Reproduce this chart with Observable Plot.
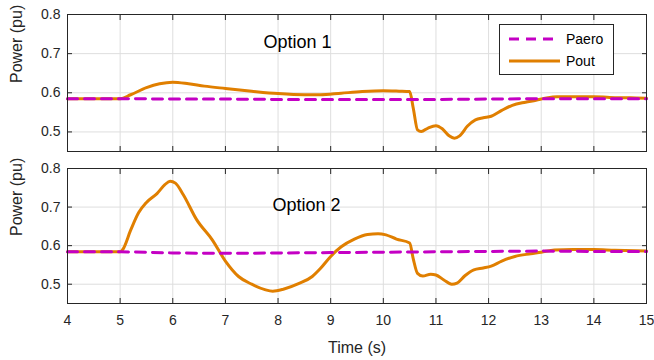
<!DOCTYPE html>
<html><head><meta charset="utf-8">
<script src="https://cdn.jsdelivr.net/npm/d3@7"></script>
<script src="https://cdn.jsdelivr.net/npm/@observablehq/plot@0.6"></script>
<style>
body{margin:0;background:#fff;font-family:"Liberation Sans",Arial,sans-serif;}
#wrap{position:relative;width:654px;height:360px;overflow:hidden;}
#wrap > .pos{position:absolute;left:0;}
</style></head><body><div id="wrap"></div>
<script>
// ---- data ----
const timeOut1 = [4.0,5.0,5.2,5.5,5.75,6.0,6.3,6.6,7.0,7.5,8.0,8.5,8.8,9.2,9.6,10.0,10.3,10.5,10.57,10.65,10.72,10.85,11.0,11.12,11.25,11.35,11.45,11.6,11.75,11.9,12.05,12.25,12.45,12.7,12.9,13.1,13.3,13.6,14.0,14.3,14.7,15.0];
const pout1   = [0.585,0.585,0.595,0.613,0.623,0.627,0.623,0.617,0.611,0.604,0.598,0.595,0.595,0.599,0.603,0.605,0.604,0.603,0.560,0.505,0.501,0.510,0.516,0.508,0.490,0.484,0.490,0.515,0.531,0.536,0.540,0.555,0.568,0.576,0.581,0.587,0.590,0.590,0.590,0.588,0.587,0.586];
const timeAero1 = [4,5,6,7,8,9,10,11,12,13,14,15];
const paero1    = [0.585,0.585,0.584,0.584,0.583,0.583,0.583,0.583,0.584,0.585,0.585,0.585];

const timeOut2 = [4.0,5.0,5.05,5.2,5.35,5.5,5.7,5.85,5.95,6.05,6.2,6.45,6.75,7.0,7.25,7.5,7.75,7.9,8.1,8.4,8.65,8.8,9.0,9.2,9.45,9.7,9.9,10.05,10.25,10.5,10.57,10.65,10.75,10.9,11.0,11.15,11.3,11.4,11.55,11.72,11.9,12.05,12.25,12.5,12.8,13.0,13.25,13.6,14.0,14.4,14.8,15.0];
const pout2   = [0.584,0.584,0.590,0.640,0.685,0.712,0.735,0.758,0.767,0.762,0.732,0.668,0.615,0.560,0.520,0.500,0.486,0.482,0.487,0.502,0.520,0.540,0.572,0.597,0.617,0.629,0.631,0.628,0.617,0.607,0.565,0.528,0.521,0.526,0.524,0.511,0.500,0.503,0.522,0.537,0.542,0.547,0.560,0.572,0.579,0.583,0.589,0.590,0.590,0.588,0.587,0.586];
const timeAero2 = [4,5,5.5,6,7,8,9,10,11,12,13,14,15];
const paero2    = [0.584,0.584,0.583,0.581,0.580,0.581,0.582,0.583,0.584,0.585,0.586,0.585,0.585];

const xTicks = [4,5,6,7,8,9,10,11,12,13,14,15];
const yTicks = [0.5,0.6,0.7,0.8];
const seriesNames = ["Paero","Pout"];
const panelTitles = ["Option 1","Option 2"];
const xLabel = "Time (s)";
const yLabel = "Power (pu)";

// ---- styles ----
const C_OUT = "#E07F00", C_AERO = "#C400C4", C_AX = "#262626", C_GRID = "#dedede";

function panel({tOut, vOut, tAero, vAero, title, bottom, height, mt, mb, tdx, tdy}) {
  const outData = tOut.map((t,i)=>({t, v: vOut[i]}));
  const aeroData = tAero.map((t,i)=>({t, v: vAero[i]}));
  const marks = [
    Plot.gridX(xTicks, {stroke:C_GRID, strokeOpacity:1}),
    Plot.gridY(yTicks, {stroke:C_GRID, strokeOpacity:1}),
    Plot.line(outData, {x:"t", y:"v", stroke:C_OUT, strokeWidth:3, curve:"monotone-x"}),
    Plot.line(aeroData, {x:"t", y:"v", stroke:C_AERO, strokeWidth:3, strokeDasharray:"10,7"}),
    Plot.frame({stroke:C_AX}),
    Plot.axisX(xTicks, {anchor:"bottom", tickSize:-5, tickFormat:()=>"", label:null, stroke:C_AX}),
    Plot.axisX(xTicks, {anchor:"top", tickSize:-5, tickFormat:()=>"", label:null, stroke:C_AX}),
    Plot.axisY(yTicks, {anchor:"left", tickSize:-5, tickFormat:()=>"", label:null, stroke:C_AX}),
    Plot.axisY(yTicks, {anchor:"right", tickSize:-5, tickFormat:()=>"", label:null, stroke:C_AX}),
    Plot.axisY(yTicks, {anchor:"left", tickSize:0, tickPadding:7, tickFormat:d3.format(".1f"), label:null, fontSize:14, fill:C_AX}),
    Plot.text([yLabel], {frameAnchor:"left", rotate:-90, dx:-51, fontSize:16, fill:C_AX}),
    Plot.text([title], {frameAnchor:"top-left", textAnchor:"middle", dx:tdx, dy:tdy, fontSize:18, fill:"#000"})
  ];
  if (bottom) {
    marks.push(Plot.axisX(xTicks, {anchor:"bottom", tickSize:0, tickPadding:12, fontSize:14, label:null, fill:C_AX}));
    marks.push(Plot.text([xLabel], {frameAnchor:"bottom", dy:49, fontSize:16, fill:C_AX}));
  }
  return Plot.plot({
    width:654, height, marginLeft:67, marginRight:8, marginTop:mt, marginBottom:mb,
    x:{domain:[4,15]}, y:{domain:[0.45,0.8]},
    style:{fontFamily:"Liberation Sans, Arial, sans-serif", fontSize:"14px", color:C_AX, background:"transparent", overflow:"visible"},
    marks
  });
}

const wrap = document.getElementById("wrap");
const p1 = panel({tOut:timeOut1, vOut:pout1, tAero:timeAero1, vAero:paero1, title:panelTitles[0], bottom:false, height:160, mt:14, mb:9, tdx:230, tdy:21});
p1.classList.add("pos"); p1.style.top = "0px";
const p2 = panel({tOut:timeOut2, vOut:pout2, tAero:timeAero2, vAero:paero2, title:panelTitles[1], bottom:true, height:200, mt:8, mb:57, tdx:239, tdy:30});
p2.classList.add("pos"); p2.style.top = "160px";
wrap.appendChild(p1); wrap.appendChild(p2);

// legend
const lg = d3.create("svg").attr("width",116).attr("height",52)
  .attr("class","pos").style("left","499px").style("top","24px");
lg.append("rect").attr("x",0.5).attr("y",0.5).attr("width",114).attr("height",50)
  .attr("fill","#fff").attr("stroke",C_AX);
const rows = [{name:seriesNames[0], color:C_AERO, dash:"10,7", y:15},{name:seriesNames[1], color:C_OUT, dash:null, y:37}];
for (const r of rows) {
  lg.append("line").attr("x1",10).attr("x2",61).attr("y1",r.y).attr("y2",r.y)
    .attr("stroke",r.color).attr("stroke-width",3).attr("stroke-dasharray",r.dash);
  lg.append("text").attr("x",67).attr("y",r.y).attr("dy","0.35em")
    .attr("font-size",14).attr("fill","#000").attr("font-family","Liberation Sans, Arial, sans-serif").text(r.name);
}
wrap.appendChild(lg.node());
</script></body></html>
